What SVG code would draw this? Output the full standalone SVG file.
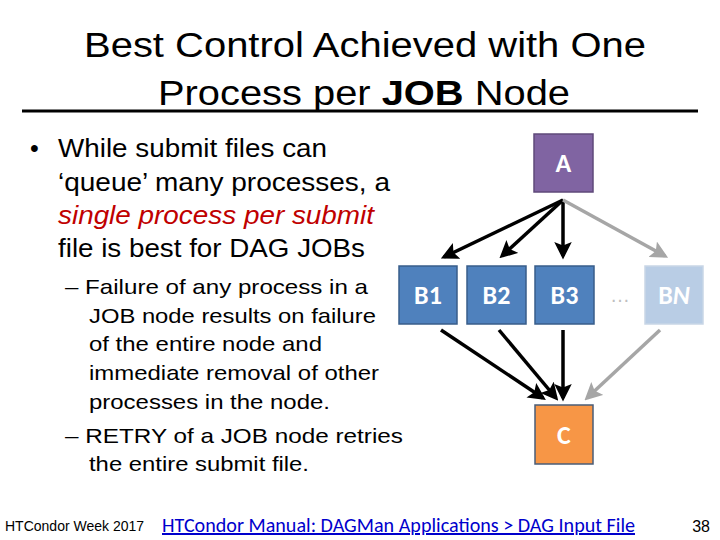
<svg xmlns="http://www.w3.org/2000/svg" width="720" height="540" viewBox="0 0 720 540">
<defs>
<marker id="ab" markerWidth="5" markerHeight="5" refX="4" refY="2.5" orient="auto" markerUnits="strokeWidth"><path d="M0,0 L5,2.5 L0,5 L1,2.5 Z" fill="#000"/></marker>
<marker id="ag" markerWidth="5" markerHeight="5" refX="4" refY="2.5" orient="auto" markerUnits="strokeWidth"><path d="M0,0 L5,2.5 L0,5 L1,2.5 Z" fill="#a6a6a6"/></marker>
<style>
.t{font-family:"Liberation Sans",Arial,sans-serif;fill:#000}
.n{font-family:Carlito,Calibri,"Open Sans",sans-serif;font-size:26px;font-weight:bold;fill:#fff;text-anchor:middle}
.bk{stroke:#000;stroke-width:3.5;fill:none;marker-end:url(#ab)}
.gr{stroke:#a6a6a6;stroke-width:3.5;fill:none;marker-end:url(#ag)}
</style>
</defs>
<rect width="720" height="540" fill="#fff"/>
<text class="t" x="365" y="57" font-size="35" text-anchor="middle" textLength="562" lengthAdjust="spacingAndGlyphs">Best Control Achieved with One</text>
<text class="t" x="364" y="105" font-size="35" text-anchor="middle" textLength="412" lengthAdjust="spacingAndGlyphs">Process per <tspan font-weight="bold">JOB</tspan> Node</text>
<line x1="22" y1="111" x2="698" y2="111" stroke="#000" stroke-width="3"/>
<g class="t" font-size="25">
<text x="30" y="157">•</text>
<text x="58" y="157" textLength="269" lengthAdjust="spacingAndGlyphs">While submit files can</text>
<text x="58" y="191" textLength="332" lengthAdjust="spacingAndGlyphs">‘queue’ many processes, a</text>
<text x="58" y="224" font-style="italic" style="fill:#c00000" textLength="316" lengthAdjust="spacingAndGlyphs">single process per submit</text>
<text x="58" y="257" textLength="307" lengthAdjust="spacingAndGlyphs">file is best for DAG JOBs</text>
</g>
<g class="t" font-size="21">
<text x="65" y="294" textLength="303" lengthAdjust="spacingAndGlyphs">– Failure of any process in a</text>
<text x="89" y="323" textLength="287" lengthAdjust="spacingAndGlyphs">JOB node results on failure</text>
<text x="89" y="351" textLength="233" lengthAdjust="spacingAndGlyphs">of the entire node and</text>
<text x="89" y="380" textLength="290" lengthAdjust="spacingAndGlyphs">immediate removal of other</text>
<text x="89" y="409" textLength="241" lengthAdjust="spacingAndGlyphs">processes in the node.</text>
<text x="65" y="443" textLength="338" lengthAdjust="spacingAndGlyphs">– RETRY of a JOB node retries</text>
<text x="89" y="471" textLength="220" lengthAdjust="spacingAndGlyphs">the entire submit file.</text>
</g>
<text class="t" x="5" y="531" font-size="14">HTCondor Week 2017</text>
<text x="162" y="532" font-size="20" fill="#0000cc" text-decoration="underline" font-family="Carlito,Calibri,'Open Sans',sans-serif" textLength="473" lengthAdjust="spacingAndGlyphs">HTCondor Manual: DAGMan Applications &gt; DAG Input File</text>
<text class="t" x="710" y="532" font-size="16" text-anchor="end">38</text>
<g id="edges">
<line class="bk" x1="563" y1="200" x2="444" y2="257"/>
<line class="bk" x1="563" y1="200" x2="502" y2="256"/>
<line class="bk" x1="563" y1="200" x2="563" y2="256"/>
<line class="gr" x1="563" y1="200" x2="665" y2="256"/>
<line class="bk" x1="441" y1="330" x2="543" y2="398"/>
<line class="bk" x1="499" y1="330" x2="556" y2="398"/>
<line class="bk" x1="563" y1="330" x2="563" y2="398"/>
<line class="gr" x1="660" y1="330" x2="587" y2="398"/>
</g>
<g id="A"><rect x="534" y="134" width="59" height="58" fill="#8064a2" stroke="#5f497a" stroke-width="1.5"/><text class="n" x="563.5" y="172">A</text></g>
<g id="B1"><rect x="399" y="266" width="58" height="58" fill="#4f81bd" stroke="#385d8a" stroke-width="1.5"/><text class="n" x="428" y="304">B1</text></g>
<g id="B2"><rect x="467" y="266" width="59" height="58" fill="#4f81bd" stroke="#385d8a" stroke-width="1.5"/><text class="n" x="496.5" y="304">B2</text></g>
<g id="B3"><rect x="535" y="266" width="59" height="58" fill="#4f81bd" stroke="#385d8a" stroke-width="1.5"/><text class="n" x="564.5" y="304">B3</text></g>
<text x="620" y="302" font-size="20" fill="#bfbfbf" text-anchor="middle" font-family="Liberation Sans,sans-serif">…</text>
<g id="BN"><rect x="645" y="266" width="58" height="58" fill="#b9cde5" stroke="#c9d6e6" stroke-width="1.5"/><text class="n" x="674" y="304">B<tspan font-style="italic">N</tspan></text></g>
<g id="C"><rect x="535" y="405" width="58" height="59" fill="#f79646" stroke="#4a5d78" stroke-width="1.5"/><text class="n" x="564" y="444">C</text></g>
</svg>
